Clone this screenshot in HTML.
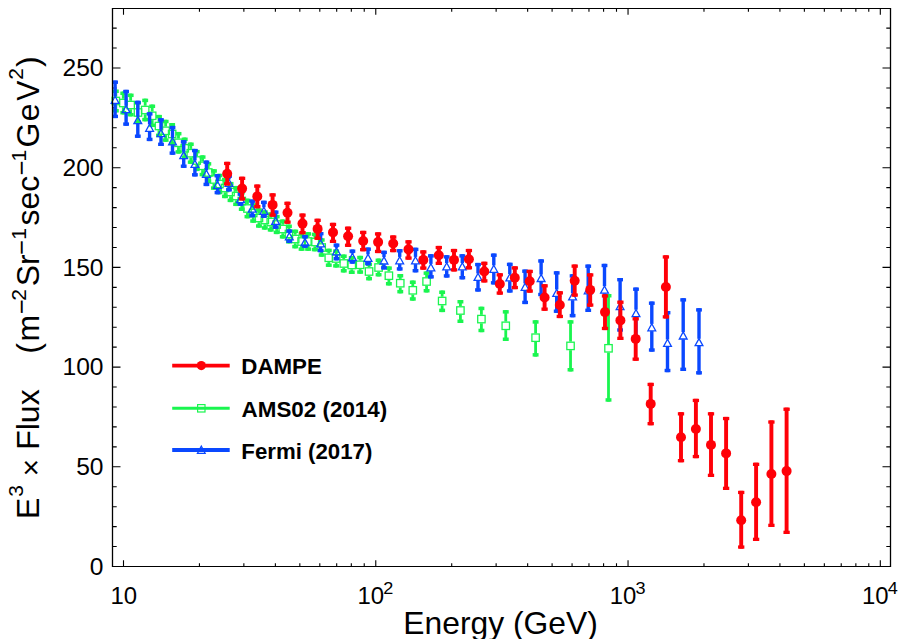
<!DOCTYPE html>
<html><head><meta charset="utf-8"><title>Electron spectrum</title>
<style>
html,body{margin:0;padding:0;background:#fff;}
body{width:913px;height:639px;overflow:hidden;}
svg{display:block;font-family:"Liberation Sans",Arial,Helvetica,sans-serif;}
</style></head><body>
<svg width="913" height="639" viewBox="0 0 913 639">
<rect width="913" height="639" fill="#fff"/>
<g stroke="#000" stroke-width="1.1" fill="none"><path d="M123.50 566.5v-6.2M123.50 8.5v6.2M199.44 566.5v-3.2M199.44 8.5v3.2M243.86 566.5v-3.2M243.86 8.5v3.2M275.38 566.5v-3.2M275.38 8.5v3.2M299.83 566.5v-3.2M299.83 8.5v3.2M319.80 566.5v-3.2M319.80 8.5v3.2M336.69 566.5v-3.2M336.69 8.5v3.2M351.32 566.5v-3.2M351.32 8.5v3.2M364.23 566.5v-3.2M364.23 8.5v3.2M375.77 566.5v-6.2M375.77 8.5v6.2M451.71 566.5v-3.2M451.71 8.5v3.2M496.13 566.5v-3.2M496.13 8.5v3.2M527.65 566.5v-3.2M527.65 8.5v3.2M552.10 566.5v-3.2M552.10 8.5v3.2M572.07 566.5v-3.2M572.07 8.5v3.2M588.96 566.5v-3.2M588.96 8.5v3.2M603.59 566.5v-3.2M603.59 8.5v3.2M616.50 566.5v-3.2M616.50 8.5v3.2M628.04 566.5v-6.2M628.04 8.5v6.2M703.98 566.5v-3.2M703.98 8.5v3.2M748.40 566.5v-3.2M748.40 8.5v3.2M779.92 566.5v-3.2M779.92 8.5v3.2M804.37 566.5v-3.2M804.37 8.5v3.2M824.34 566.5v-3.2M824.34 8.5v3.2M841.23 566.5v-3.2M841.23 8.5v3.2M855.86 566.5v-3.2M855.86 8.5v3.2M868.77 566.5v-3.2M868.77 8.5v3.2M880.31 566.5v-6.2M880.31 8.5v6.2"/><path d="M112.5 546.56h4.2M890.5 546.56h-4.2M112.5 526.62h4.2M890.5 526.62h-4.2M112.5 506.68h4.2M890.5 506.68h-4.2M112.5 486.74h4.2M890.5 486.74h-4.2M112.5 466.80h8M890.5 466.80h-8M112.5 446.86h4.2M890.5 446.86h-4.2M112.5 426.92h4.2M890.5 426.92h-4.2M112.5 406.98h4.2M890.5 406.98h-4.2M112.5 387.04h4.2M890.5 387.04h-4.2M112.5 367.10h8M890.5 367.10h-8M112.5 347.16h4.2M890.5 347.16h-4.2M112.5 327.22h4.2M890.5 327.22h-4.2M112.5 307.28h4.2M890.5 307.28h-4.2M112.5 287.34h4.2M890.5 287.34h-4.2M112.5 267.40h8M890.5 267.40h-8M112.5 247.46h4.2M890.5 247.46h-4.2M112.5 227.52h4.2M890.5 227.52h-4.2M112.5 207.58h4.2M890.5 207.58h-4.2M112.5 187.64h4.2M890.5 187.64h-4.2M112.5 167.70h8M890.5 167.70h-8M112.5 147.76h4.2M890.5 147.76h-4.2M112.5 127.82h4.2M890.5 127.82h-4.2M112.5 107.88h4.2M890.5 107.88h-4.2M112.5 87.94h4.2M890.5 87.94h-4.2M112.5 68.00h8M890.5 68.00h-8M112.5 48.06h4.2M890.5 48.06h-4.2M112.5 28.12h4.2M890.5 28.12h-4.2"/></g>
<g fill="#1af54f" stroke="none">
<rect x="114.44" y="89.52" width="2.8" height="7.18"/><rect x="114.44" y="105.30" width="2.8" height="7.18"/><rect x="112.89" y="89.52" width="5.9" height="3.5"/><rect x="112.89" y="108.98" width="5.9" height="3.5"/>
<rect x="121.87" y="91.55" width="2.8" height="7.15"/><rect x="121.87" y="107.30" width="2.8" height="7.15"/><rect x="120.32" y="91.55" width="5.9" height="3.5"/><rect x="120.32" y="110.95" width="5.9" height="3.5"/>
<rect x="129.25" y="93.58" width="2.8" height="7.12"/><rect x="129.25" y="109.30" width="2.8" height="7.12"/><rect x="127.70" y="93.58" width="5.9" height="3.5"/><rect x="127.70" y="112.92" width="5.9" height="3.5"/>
<rect x="136.59" y="101.19" width="2.8" height="7.01"/><rect x="136.59" y="116.80" width="2.8" height="7.01"/><rect x="135.04" y="101.19" width="5.9" height="3.5"/><rect x="135.04" y="120.31" width="5.9" height="3.5"/>
<rect x="143.78" y="98.65" width="2.8" height="7.05"/><rect x="143.78" y="114.30" width="2.8" height="7.05"/><rect x="142.23" y="98.65" width="5.9" height="3.5"/><rect x="142.23" y="117.85" width="5.9" height="3.5"/>
<rect x="150.79" y="104.54" width="2.8" height="6.96"/><rect x="150.79" y="120.10" width="2.8" height="6.96"/><rect x="149.24" y="104.54" width="5.9" height="3.5"/><rect x="149.24" y="123.56" width="5.9" height="3.5"/>
<rect x="157.57" y="114.89" width="2.8" height="6.81"/><rect x="157.57" y="130.30" width="2.8" height="6.81"/><rect x="156.02" y="114.89" width="5.9" height="3.5"/><rect x="156.02" y="133.61" width="5.9" height="3.5"/>
<rect x="164.22" y="119.77" width="2.8" height="6.73"/><rect x="164.22" y="135.10" width="2.8" height="6.73"/><rect x="162.67" y="119.77" width="5.9" height="3.5"/><rect x="162.67" y="138.33" width="5.9" height="3.5"/>
<rect x="170.74" y="123.02" width="2.8" height="6.68"/><rect x="170.74" y="138.30" width="2.8" height="6.68"/><rect x="169.19" y="123.02" width="5.9" height="3.5"/><rect x="169.19" y="141.48" width="5.9" height="3.5"/>
<rect x="177.09" y="131.95" width="2.8" height="6.55"/><rect x="177.09" y="147.10" width="2.8" height="6.55"/><rect x="175.54" y="131.95" width="5.9" height="3.5"/><rect x="175.54" y="150.15" width="5.9" height="3.5"/>
<rect x="183.31" y="137.53" width="2.8" height="6.47"/><rect x="183.31" y="152.60" width="2.8" height="6.47"/><rect x="181.76" y="137.53" width="5.9" height="3.5"/><rect x="181.76" y="155.57" width="5.9" height="3.5"/>
<rect x="189.37" y="142.51" width="2.8" height="6.39"/><rect x="189.37" y="157.50" width="2.8" height="6.39"/><rect x="187.82" y="142.51" width="5.9" height="3.5"/><rect x="187.82" y="160.39" width="5.9" height="3.5"/>
<rect x="195.31" y="149.92" width="2.8" height="6.28"/><rect x="195.31" y="164.80" width="2.8" height="6.28"/><rect x="193.76" y="149.92" width="5.9" height="3.5"/><rect x="193.76" y="167.58" width="5.9" height="3.5"/>
<rect x="201.16" y="155.30" width="2.8" height="6.20"/><rect x="201.16" y="170.10" width="2.8" height="6.20"/><rect x="199.61" y="155.30" width="5.9" height="3.5"/><rect x="199.61" y="172.80" width="5.9" height="3.5"/>
<rect x="206.89" y="162.10" width="2.8" height="6.10"/><rect x="206.89" y="176.80" width="2.8" height="6.10"/><rect x="205.34" y="162.10" width="5.9" height="3.5"/><rect x="205.34" y="179.40" width="5.9" height="3.5"/>
<rect x="212.53" y="169.20" width="2.8" height="6.00"/><rect x="212.53" y="183.80" width="2.8" height="6.00"/><rect x="210.98" y="169.20" width="5.9" height="3.5"/><rect x="210.98" y="186.30" width="5.9" height="3.5"/>
<rect x="218.07" y="173.77" width="2.8" height="5.93"/><rect x="218.07" y="188.30" width="2.8" height="5.93"/><rect x="216.52" y="173.77" width="5.9" height="3.5"/><rect x="216.52" y="190.73" width="5.9" height="3.5"/>
<rect x="223.59" y="177.83" width="2.8" height="5.87"/><rect x="223.59" y="192.30" width="2.8" height="5.87"/><rect x="222.04" y="177.83" width="5.9" height="3.5"/><rect x="222.04" y="194.67" width="5.9" height="3.5"/>
<rect x="229.15" y="181.89" width="2.8" height="5.81"/><rect x="229.15" y="196.30" width="2.8" height="5.81"/><rect x="227.60" y="181.89" width="5.9" height="3.5"/><rect x="227.60" y="198.61" width="5.9" height="3.5"/>
<rect x="234.73" y="185.95" width="2.8" height="5.75"/><rect x="234.73" y="200.30" width="2.8" height="5.75"/><rect x="233.18" y="185.95" width="5.9" height="3.5"/><rect x="233.18" y="202.55" width="5.9" height="3.5"/>
<rect x="240.38" y="191.03" width="2.8" height="5.67"/><rect x="240.38" y="205.30" width="2.8" height="5.67"/><rect x="238.83" y="191.03" width="5.9" height="3.5"/><rect x="238.83" y="207.47" width="5.9" height="3.5"/>
<rect x="246.07" y="198.64" width="2.8" height="5.56"/><rect x="246.07" y="212.80" width="2.8" height="5.56"/><rect x="244.52" y="198.64" width="5.9" height="3.5"/><rect x="244.52" y="214.86" width="5.9" height="3.5"/>
<rect x="251.78" y="203.21" width="2.8" height="5.49"/><rect x="251.78" y="217.30" width="2.8" height="5.49"/><rect x="250.23" y="203.21" width="5.9" height="3.5"/><rect x="250.23" y="219.29" width="5.9" height="3.5"/>
<rect x="257.56" y="208.29" width="2.8" height="5.41"/><rect x="257.56" y="222.30" width="2.8" height="5.41"/><rect x="256.01" y="208.29" width="5.9" height="3.5"/><rect x="256.01" y="224.21" width="5.9" height="3.5"/>
<rect x="263.41" y="210.32" width="2.8" height="5.38"/><rect x="263.41" y="224.30" width="2.8" height="5.38"/><rect x="261.86" y="210.32" width="5.9" height="3.5"/><rect x="261.86" y="226.18" width="5.9" height="3.5"/>
<rect x="269.33" y="212.35" width="2.8" height="5.35"/><rect x="269.33" y="226.30" width="2.8" height="5.35"/><rect x="267.78" y="212.35" width="5.9" height="3.5"/><rect x="267.78" y="228.15" width="5.9" height="3.5"/>
<rect x="275.30" y="214.89" width="2.8" height="5.31"/><rect x="275.30" y="228.80" width="2.8" height="5.31"/><rect x="273.75" y="214.89" width="5.9" height="3.5"/><rect x="273.75" y="230.61" width="5.9" height="3.5"/>
<rect x="281.36" y="219.45" width="2.8" height="5.25"/><rect x="281.36" y="233.30" width="2.8" height="5.25"/><rect x="279.81" y="219.45" width="5.9" height="3.5"/><rect x="279.81" y="235.05" width="5.9" height="3.5"/>
<rect x="287.53" y="224.53" width="2.8" height="5.17"/><rect x="287.53" y="238.30" width="2.8" height="5.17"/><rect x="285.98" y="224.53" width="5.9" height="3.5"/><rect x="285.98" y="239.97" width="5.9" height="3.5"/>
<rect x="293.80" y="229.61" width="2.8" height="5.09"/><rect x="293.80" y="243.30" width="2.8" height="5.09"/><rect x="292.25" y="229.61" width="5.9" height="3.5"/><rect x="292.25" y="244.89" width="5.9" height="3.5"/>
<rect x="300.19" y="232.14" width="2.8" height="5.06"/><rect x="300.19" y="245.80" width="2.8" height="5.06"/><rect x="298.64" y="232.14" width="5.9" height="3.5"/><rect x="298.64" y="247.36" width="5.9" height="3.5"/>
<rect x="306.72" y="232.14" width="2.8" height="5.06"/><rect x="306.72" y="245.80" width="2.8" height="5.06"/><rect x="305.17" y="232.14" width="5.9" height="3.5"/><rect x="305.17" y="247.36" width="5.9" height="3.5"/>
<rect x="313.41" y="232.65" width="2.8" height="5.05"/><rect x="313.41" y="246.30" width="2.8" height="5.05"/><rect x="311.86" y="232.65" width="5.9" height="3.5"/><rect x="311.86" y="247.85" width="5.9" height="3.5"/>
<rect x="320.29" y="238.23" width="2.8" height="4.97"/><rect x="320.29" y="251.80" width="2.8" height="4.97"/><rect x="318.74" y="238.23" width="5.9" height="3.5"/><rect x="318.74" y="253.27" width="5.9" height="3.5"/>
<rect x="327.38" y="248.69" width="2.8" height="4.81"/><rect x="327.38" y="262.10" width="2.8" height="4.81"/><rect x="325.83" y="248.69" width="5.9" height="3.5"/><rect x="325.83" y="263.41" width="5.9" height="3.5"/>
<rect x="334.72" y="249.40" width="2.8" height="4.80"/><rect x="334.72" y="262.80" width="2.8" height="4.80"/><rect x="333.17" y="249.40" width="5.9" height="3.5"/><rect x="333.17" y="264.10" width="5.9" height="3.5"/>
<rect x="342.36" y="254.48" width="2.8" height="4.72"/><rect x="342.36" y="267.80" width="2.8" height="4.72"/><rect x="340.81" y="254.48" width="5.9" height="3.5"/><rect x="340.81" y="269.02" width="5.9" height="3.5"/>
<rect x="350.35" y="256.00" width="2.8" height="4.70"/><rect x="350.35" y="269.30" width="2.8" height="4.70"/><rect x="348.80" y="256.00" width="5.9" height="3.5"/><rect x="348.80" y="270.50" width="5.9" height="3.5"/>
<rect x="358.74" y="255.80" width="2.8" height="4.70"/><rect x="358.74" y="269.10" width="2.8" height="4.70"/><rect x="357.19" y="255.80" width="5.9" height="3.5"/><rect x="357.19" y="270.30" width="5.9" height="3.5"/>
<rect x="367.65" y="262.60" width="2.8" height="4.60"/><rect x="367.65" y="275.80" width="2.8" height="4.60"/><rect x="366.10" y="262.60" width="5.9" height="3.5"/><rect x="366.10" y="276.90" width="5.9" height="3.5"/>
<rect x="377.17" y="258.54" width="2.8" height="4.66"/><rect x="377.17" y="271.80" width="2.8" height="4.66"/><rect x="375.62" y="258.54" width="5.9" height="3.5"/><rect x="375.62" y="272.96" width="5.9" height="3.5"/>
<rect x="387.48" y="266.40" width="2.8" height="5.00"/><rect x="387.48" y="280.00" width="2.8" height="5.50"/><rect x="385.93" y="266.40" width="5.9" height="3.5"/><rect x="385.93" y="282.00" width="5.9" height="3.5"/>
<rect x="398.87" y="274.00" width="2.8" height="4.90"/><rect x="398.87" y="287.50" width="2.8" height="5.90"/><rect x="397.32" y="274.00" width="5.9" height="3.5"/><rect x="397.32" y="289.90" width="5.9" height="3.5"/>
<rect x="411.39" y="280.50" width="2.8" height="5.50"/><rect x="411.39" y="294.60" width="2.8" height="6.10"/><rect x="409.84" y="280.50" width="5.9" height="3.5"/><rect x="409.84" y="297.20" width="5.9" height="3.5"/>
<rect x="425.18" y="271.40" width="2.8" height="5.80"/><rect x="425.18" y="285.80" width="2.8" height="6.70"/><rect x="423.63" y="271.40" width="5.9" height="3.5"/><rect x="423.63" y="289.00" width="5.9" height="3.5"/>
<rect x="440.74" y="290.50" width="2.8" height="6.20"/><rect x="440.74" y="305.30" width="2.8" height="6.80"/><rect x="439.19" y="290.50" width="5.9" height="3.5"/><rect x="439.19" y="308.60" width="5.9" height="3.5"/>
<rect x="459.02" y="300.00" width="2.8" height="6.20"/><rect x="459.02" y="314.80" width="2.8" height="8.20"/><rect x="457.47" y="300.00" width="5.9" height="3.5"/><rect x="457.47" y="319.50" width="5.9" height="3.5"/>
<rect x="480.01" y="306.70" width="2.8" height="8.10"/><rect x="480.01" y="323.40" width="2.8" height="8.80"/><rect x="478.46" y="306.70" width="5.9" height="3.5"/><rect x="478.46" y="328.70" width="5.9" height="3.5"/>
<rect x="504.36" y="310.10" width="2.8" height="11.40"/><rect x="504.36" y="330.10" width="2.8" height="10.90"/><rect x="502.81" y="310.10" width="5.9" height="3.5"/><rect x="502.81" y="337.50" width="5.9" height="3.5"/>
<rect x="534.20" y="320.20" width="2.8" height="13.20"/><rect x="534.20" y="342.00" width="2.8" height="14.60"/><rect x="532.65" y="320.20" width="5.9" height="3.5"/><rect x="532.65" y="353.10" width="5.9" height="3.5"/>
<rect x="569.13" y="320.20" width="2.8" height="21.40"/><rect x="569.13" y="350.20" width="2.8" height="21.30"/><rect x="567.58" y="320.20" width="5.9" height="3.5"/><rect x="567.58" y="368.00" width="5.9" height="3.5"/>
<rect x="607.10" y="294.00" width="2.8" height="50.00"/><rect x="607.10" y="352.60" width="2.8" height="49.10"/><rect x="605.55" y="294.00" width="5.9" height="3.5"/><rect x="605.55" y="398.20" width="5.9" height="3.5"/>
</g>
<g fill="none" stroke="#1af54f" stroke-width="1.3">
<rect x="112.14" y="97.30" width="7.4" height="7.4"/>
<rect x="119.57" y="99.30" width="7.4" height="7.4"/>
<rect x="126.95" y="101.30" width="7.4" height="7.4"/>
<rect x="134.29" y="108.80" width="7.4" height="7.4"/>
<rect x="141.48" y="106.30" width="7.4" height="7.4"/>
<rect x="148.49" y="112.10" width="7.4" height="7.4"/>
<rect x="155.27" y="122.30" width="7.4" height="7.4"/>
<rect x="161.92" y="127.10" width="7.4" height="7.4"/>
<rect x="168.44" y="130.30" width="7.4" height="7.4"/>
<rect x="174.79" y="139.10" width="7.4" height="7.4"/>
<rect x="181.01" y="144.60" width="7.4" height="7.4"/>
<rect x="187.07" y="149.50" width="7.4" height="7.4"/>
<rect x="193.01" y="156.80" width="7.4" height="7.4"/>
<rect x="198.86" y="162.10" width="7.4" height="7.4"/>
<rect x="204.59" y="168.80" width="7.4" height="7.4"/>
<rect x="210.23" y="175.80" width="7.4" height="7.4"/>
<rect x="215.77" y="180.30" width="7.4" height="7.4"/>
<rect x="221.29" y="184.30" width="7.4" height="7.4"/>
<rect x="226.85" y="188.30" width="7.4" height="7.4"/>
<rect x="232.43" y="192.30" width="7.4" height="7.4"/>
<rect x="238.08" y="197.30" width="7.4" height="7.4"/>
<rect x="243.77" y="204.80" width="7.4" height="7.4"/>
<rect x="249.48" y="209.30" width="7.4" height="7.4"/>
<rect x="255.26" y="214.30" width="7.4" height="7.4"/>
<rect x="261.11" y="216.30" width="7.4" height="7.4"/>
<rect x="267.03" y="218.30" width="7.4" height="7.4"/>
<rect x="273.00" y="220.80" width="7.4" height="7.4"/>
<rect x="279.06" y="225.30" width="7.4" height="7.4"/>
<rect x="285.23" y="230.30" width="7.4" height="7.4"/>
<rect x="291.50" y="235.30" width="7.4" height="7.4"/>
<rect x="297.89" y="237.80" width="7.4" height="7.4"/>
<rect x="304.42" y="237.80" width="7.4" height="7.4"/>
<rect x="311.11" y="238.30" width="7.4" height="7.4"/>
<rect x="317.99" y="243.80" width="7.4" height="7.4"/>
<rect x="325.08" y="254.10" width="7.4" height="7.4"/>
<rect x="332.42" y="254.80" width="7.4" height="7.4"/>
<rect x="340.06" y="259.80" width="7.4" height="7.4"/>
<rect x="348.05" y="261.30" width="7.4" height="7.4"/>
<rect x="356.44" y="261.10" width="7.4" height="7.4"/>
<rect x="365.35" y="267.80" width="7.4" height="7.4"/>
<rect x="374.87" y="263.80" width="7.4" height="7.4"/>
<rect x="385.18" y="272.00" width="7.4" height="7.4"/>
<rect x="396.57" y="279.50" width="7.4" height="7.4"/>
<rect x="409.09" y="286.60" width="7.4" height="7.4"/>
<rect x="422.88" y="277.80" width="7.4" height="7.4"/>
<rect x="438.44" y="297.30" width="7.4" height="7.4"/>
<rect x="456.72" y="306.80" width="7.4" height="7.4"/>
<rect x="477.71" y="315.40" width="7.4" height="7.4"/>
<rect x="502.06" y="322.10" width="7.4" height="7.4"/>
<rect x="531.90" y="334.00" width="7.4" height="7.4"/>
<rect x="566.83" y="342.20" width="7.4" height="7.4"/>
<rect x="604.80" y="344.60" width="7.4" height="7.4"/>
</g>
<g fill="#0a48ff" stroke="none">
<rect x="113.40" y="80.50" width="3.4" height="16.00"/><rect x="113.40" y="103.70" width="3.4" height="14.40"/><rect x="112.20" y="80.50" width="5.8" height="3.4"/><rect x="112.20" y="114.70" width="5.8" height="3.4"/>
<rect x="124.40" y="89.80" width="3.4" height="16.00"/><rect x="124.40" y="113.00" width="3.4" height="12.80"/><rect x="123.20" y="89.80" width="5.8" height="3.4"/><rect x="123.20" y="122.40" width="5.8" height="3.4"/>
<rect x="136.10" y="100.70" width="3.4" height="16.10"/><rect x="136.10" y="124.00" width="3.4" height="13.90"/><rect x="134.90" y="100.70" width="5.8" height="3.4"/><rect x="134.90" y="134.50" width="5.8" height="3.4"/>
<rect x="147.90" y="112.20" width="3.4" height="12.20"/><rect x="147.90" y="131.60" width="3.4" height="9.50"/><rect x="146.70" y="112.20" width="5.8" height="3.4"/><rect x="146.70" y="137.70" width="5.8" height="3.4"/>
<rect x="159.30" y="118.20" width="3.4" height="11.50"/><rect x="159.30" y="136.90" width="3.4" height="9.10"/><rect x="158.10" y="118.20" width="5.8" height="3.4"/><rect x="158.10" y="142.60" width="5.8" height="3.4"/>
<rect x="170.80" y="125.90" width="3.4" height="12.00"/><rect x="170.80" y="145.10" width="3.4" height="9.70"/><rect x="169.60" y="125.90" width="5.8" height="3.4"/><rect x="169.60" y="151.40" width="5.8" height="3.4"/>
<rect x="182.00" y="140.10" width="3.4" height="11.70"/><rect x="182.00" y="159.00" width="3.4" height="8.90"/><rect x="180.80" y="140.10" width="5.8" height="3.4"/><rect x="180.80" y="164.50" width="5.8" height="3.4"/>
<rect x="193.20" y="148.90" width="3.4" height="11.60"/><rect x="193.20" y="167.70" width="3.4" height="8.80"/><rect x="192.00" y="148.90" width="5.8" height="3.4"/><rect x="192.00" y="173.10" width="5.8" height="3.4"/>
<rect x="204.70" y="160.50" width="3.4" height="9.90"/><rect x="204.70" y="177.60" width="3.4" height="8.50"/><rect x="203.50" y="160.50" width="5.8" height="3.4"/><rect x="203.50" y="182.70" width="5.8" height="3.4"/>
<rect x="215.80" y="174.10" width="3.4" height="7.30"/><rect x="215.80" y="188.60" width="3.4" height="5.70"/><rect x="214.60" y="174.10" width="5.8" height="3.4"/><rect x="214.60" y="190.90" width="5.8" height="3.4"/>
<rect x="227.30" y="174.50" width="3.4" height="4.90"/><rect x="227.30" y="186.60" width="3.4" height="4.90"/><rect x="226.10" y="174.50" width="5.8" height="3.4"/><rect x="226.10" y="188.10" width="5.8" height="3.4"/>
<rect x="238.80" y="192.50" width="3.4" height="3.20"/><rect x="238.80" y="202.90" width="3.4" height="2.90"/><rect x="237.60" y="192.50" width="5.8" height="3.4"/><rect x="237.60" y="202.40" width="5.8" height="3.4"/>
<rect x="250.50" y="199.50" width="3.4" height="5.70"/><rect x="250.50" y="212.40" width="3.4" height="4.90"/><rect x="249.30" y="199.50" width="5.8" height="3.4"/><rect x="249.30" y="213.90" width="5.8" height="3.4"/>
<rect x="262.20" y="200.70" width="3.4" height="6.70"/><rect x="262.20" y="214.60" width="3.4" height="3.30"/><rect x="261.00" y="200.70" width="5.8" height="3.4"/><rect x="261.00" y="214.50" width="5.8" height="3.4"/>
<rect x="273.90" y="210.50" width="3.4" height="7.00"/><rect x="273.90" y="224.70" width="3.4" height="4.10"/><rect x="272.70" y="210.50" width="5.8" height="3.4"/><rect x="272.70" y="225.40" width="5.8" height="3.4"/>
<rect x="287.60" y="229.40" width="3.4" height="3.50"/><rect x="287.60" y="240.10" width="3.4" height="2.90"/><rect x="286.40" y="229.40" width="5.8" height="3.4"/><rect x="286.40" y="239.60" width="5.8" height="3.4"/>
<rect x="303.30" y="235.00" width="3.4" height="3.80"/><rect x="303.30" y="246.00" width="3.4" height="1.80"/><rect x="302.10" y="235.00" width="5.8" height="3.4"/><rect x="302.10" y="244.40" width="5.8" height="3.4"/>
<rect x="318.90" y="232.00" width="3.4" height="7.90"/><rect x="318.90" y="247.10" width="3.4" height="5.20"/><rect x="317.70" y="232.00" width="5.8" height="3.4"/><rect x="317.70" y="248.90" width="5.8" height="3.4"/>
<rect x="334.80" y="243.50" width="3.4" height="4.40"/><rect x="334.80" y="255.10" width="3.4" height="5.30"/><rect x="333.60" y="243.50" width="5.8" height="3.4"/><rect x="333.60" y="257.00" width="5.8" height="3.4"/>
<rect x="350.70" y="249.50" width="3.4" height="4.10"/><rect x="350.70" y="260.80" width="3.4" height="2.90"/><rect x="349.50" y="249.50" width="5.8" height="3.4"/><rect x="349.50" y="260.30" width="5.8" height="3.4"/>
<rect x="366.30" y="247.50" width="3.4" height="6.90"/><rect x="366.30" y="261.60" width="3.4" height="3.70"/><rect x="365.10" y="247.50" width="5.8" height="3.4"/><rect x="365.10" y="261.90" width="5.8" height="3.4"/>
<rect x="382.30" y="250.70" width="3.4" height="6.40"/><rect x="382.30" y="264.30" width="3.4" height="5.20"/><rect x="381.10" y="250.70" width="5.8" height="3.4"/><rect x="381.10" y="266.10" width="5.8" height="3.4"/>
<rect x="398.00" y="249.10" width="3.4" height="7.80"/><rect x="398.00" y="264.10" width="3.4" height="6.50"/><rect x="396.80" y="249.10" width="5.8" height="3.4"/><rect x="396.80" y="267.20" width="5.8" height="3.4"/>
<rect x="413.80" y="247.70" width="3.4" height="9.20"/><rect x="413.80" y="264.10" width="3.4" height="8.30"/><rect x="412.60" y="247.70" width="5.8" height="3.4"/><rect x="412.60" y="269.00" width="5.8" height="3.4"/>
<rect x="429.20" y="254.20" width="3.4" height="9.70"/><rect x="429.20" y="271.10" width="3.4" height="7.40"/><rect x="428.00" y="254.20" width="5.8" height="3.4"/><rect x="428.00" y="275.10" width="5.8" height="3.4"/>
<rect x="445.00" y="255.20" width="3.4" height="7.80"/><rect x="445.00" y="270.20" width="3.4" height="7.40"/><rect x="443.80" y="255.20" width="5.8" height="3.4"/><rect x="443.80" y="274.20" width="5.8" height="3.4"/>
<rect x="460.60" y="254.20" width="3.4" height="8.80"/><rect x="460.60" y="270.20" width="3.4" height="9.20"/><rect x="459.40" y="254.20" width="5.8" height="3.4"/><rect x="459.40" y="276.00" width="5.8" height="3.4"/>
<rect x="476.30" y="262.90" width="3.4" height="10.60"/><rect x="476.30" y="280.70" width="3.4" height="10.90"/><rect x="475.10" y="262.90" width="5.8" height="3.4"/><rect x="475.10" y="288.20" width="5.8" height="3.4"/>
<rect x="492.10" y="253.50" width="3.4" height="11.90"/><rect x="492.10" y="272.60" width="3.4" height="11.90"/><rect x="490.90" y="253.50" width="5.8" height="3.4"/><rect x="490.90" y="281.10" width="5.8" height="3.4"/>
<rect x="508.10" y="262.70" width="3.4" height="11.30"/><rect x="508.10" y="281.20" width="3.4" height="11.40"/><rect x="506.90" y="262.70" width="5.8" height="3.4"/><rect x="506.90" y="289.20" width="5.8" height="3.4"/>
<rect x="523.40" y="269.50" width="3.4" height="13.90"/><rect x="523.40" y="290.60" width="3.4" height="13.50"/><rect x="522.20" y="269.50" width="5.8" height="3.4"/><rect x="522.20" y="300.70" width="5.8" height="3.4"/>
<rect x="539.40" y="259.30" width="3.4" height="15.30"/><rect x="539.40" y="281.80" width="3.4" height="14.40"/><rect x="538.20" y="259.30" width="5.8" height="3.4"/><rect x="538.20" y="292.80" width="5.8" height="3.4"/>
<rect x="555.00" y="271.20" width="3.4" height="18.30"/><rect x="555.00" y="296.70" width="3.4" height="16.20"/><rect x="553.80" y="271.20" width="5.8" height="3.4"/><rect x="553.80" y="309.50" width="5.8" height="3.4"/>
<rect x="570.90" y="274.20" width="3.4" height="18.80"/><rect x="570.90" y="300.20" width="3.4" height="17.10"/><rect x="569.70" y="274.20" width="5.8" height="3.4"/><rect x="569.70" y="313.90" width="5.8" height="3.4"/>
<rect x="586.50" y="264.50" width="3.4" height="22.40"/><rect x="586.50" y="294.10" width="3.4" height="17.90"/><rect x="585.30" y="264.50" width="5.8" height="3.4"/><rect x="585.30" y="308.60" width="5.8" height="3.4"/>
<rect x="602.80" y="263.80" width="3.4" height="22.40"/><rect x="602.80" y="293.40" width="3.4" height="22.10"/><rect x="601.60" y="263.80" width="5.8" height="3.4"/><rect x="601.60" y="312.10" width="5.8" height="3.4"/>
<rect x="618.40" y="278.00" width="3.4" height="24.80"/><rect x="618.40" y="310.00" width="3.4" height="21.70"/><rect x="617.20" y="278.00" width="5.8" height="3.4"/><rect x="617.20" y="328.30" width="5.8" height="3.4"/>
<rect x="634.30" y="287.50" width="3.4" height="22.20"/><rect x="634.30" y="316.90" width="3.4" height="21.60"/><rect x="633.10" y="287.50" width="5.8" height="3.4"/><rect x="633.10" y="335.10" width="5.8" height="3.4"/>
<rect x="650.10" y="301.50" width="3.4" height="22.40"/><rect x="650.10" y="331.10" width="3.4" height="20.60"/><rect x="648.90" y="301.50" width="5.8" height="3.4"/><rect x="648.90" y="348.30" width="5.8" height="3.4"/>
<rect x="665.80" y="311.00" width="3.4" height="28.50"/><rect x="665.80" y="346.70" width="3.4" height="25.50"/><rect x="664.60" y="311.00" width="5.8" height="3.4"/><rect x="664.60" y="368.80" width="5.8" height="3.4"/>
<rect x="681.50" y="298.20" width="3.4" height="33.90"/><rect x="681.50" y="339.30" width="3.4" height="31.70"/><rect x="680.30" y="298.20" width="5.8" height="3.4"/><rect x="680.30" y="367.60" width="5.8" height="3.4"/>
<rect x="697.30" y="308.20" width="3.4" height="30.60"/><rect x="697.30" y="346.00" width="3.4" height="28.50"/><rect x="696.10" y="308.20" width="5.8" height="3.4"/><rect x="696.10" y="371.10" width="5.8" height="3.4"/>
</g>
<g fill="none" stroke="#0a48ff" stroke-width="1.3" stroke-linejoin="miter">
<path d="M115.10 96.30L119.00 103.40L111.20 103.40Z"/>
<path d="M126.10 105.60L130.00 112.70L122.20 112.70Z"/>
<path d="M137.80 116.60L141.70 123.70L133.90 123.70Z"/>
<path d="M149.60 124.20L153.50 131.30L145.70 131.30Z"/>
<path d="M161.00 129.50L164.90 136.60L157.10 136.60Z"/>
<path d="M172.50 137.70L176.40 144.80L168.60 144.80Z"/>
<path d="M183.70 151.60L187.60 158.70L179.80 158.70Z"/>
<path d="M194.90 160.30L198.80 167.40L191.00 167.40Z"/>
<path d="M206.40 170.20L210.30 177.30L202.50 177.30Z"/>
<path d="M217.50 181.20L221.40 188.30L213.60 188.30Z"/>
<path d="M229.00 179.20L232.90 186.30L225.10 186.30Z"/>
<path d="M240.50 195.50L244.40 202.60L236.60 202.60Z"/>
<path d="M252.20 205.00L256.10 212.10L248.30 212.10Z"/>
<path d="M263.90 207.20L267.80 214.30L260.00 214.30Z"/>
<path d="M275.60 217.30L279.50 224.40L271.70 224.40Z"/>
<path d="M289.30 232.70L293.20 239.80L285.40 239.80Z"/>
<path d="M305.00 238.60L308.90 245.70L301.10 245.70Z"/>
<path d="M320.60 239.70L324.50 246.80L316.70 246.80Z"/>
<path d="M336.50 247.70L340.40 254.80L332.60 254.80Z"/>
<path d="M352.40 253.40L356.30 260.50L348.50 260.50Z"/>
<path d="M368.00 254.20L371.90 261.30L364.10 261.30Z"/>
<path d="M384.00 256.90L387.90 264.00L380.10 264.00Z"/>
<path d="M399.70 256.70L403.60 263.80L395.80 263.80Z"/>
<path d="M415.50 256.70L419.40 263.80L411.60 263.80Z"/>
<path d="M430.90 263.70L434.80 270.80L427.00 270.80Z"/>
<path d="M446.70 262.80L450.60 269.90L442.80 269.90Z"/>
<path d="M462.30 262.80L466.20 269.90L458.40 269.90Z"/>
<path d="M478.00 273.30L481.90 280.40L474.10 280.40Z"/>
<path d="M493.80 265.20L497.70 272.30L489.90 272.30Z"/>
<path d="M509.80 273.80L513.70 280.90L505.90 280.90Z"/>
<path d="M525.10 283.20L529.00 290.30L521.20 290.30Z"/>
<path d="M541.10 274.40L545.00 281.50L537.20 281.50Z"/>
<path d="M556.70 289.30L560.60 296.40L552.80 296.40Z"/>
<path d="M572.60 292.80L576.50 299.90L568.70 299.90Z"/>
<path d="M588.20 286.70L592.10 293.80L584.30 293.80Z"/>
<path d="M604.50 286.00L608.40 293.10L600.60 293.10Z"/>
<path d="M620.10 302.60L624.00 309.70L616.20 309.70Z"/>
<path d="M636.00 309.50L639.90 316.60L632.10 316.60Z"/>
<path d="M651.80 323.70L655.70 330.80L647.90 330.80Z"/>
<path d="M667.50 339.30L671.40 346.40L663.60 346.40Z"/>
<path d="M683.20 331.90L687.10 339.00L679.30 339.00Z"/>
<path d="M699.00 338.60L702.90 345.70L695.10 345.70Z"/>
</g>
<g fill="#ff0008" stroke="none">
<rect x="225.25" y="161.80" width="3.9" height="11.90"/><rect x="225.25" y="173.70" width="3.9" height="11.80"/><rect x="224.05" y="161.80" width="6.3" height="3.3"/><rect x="224.05" y="182.20" width="6.3" height="3.3"/>
<rect x="240.15" y="176.70" width="3.9" height="11.90"/><rect x="240.15" y="188.60" width="3.9" height="11.90"/><rect x="238.95" y="176.70" width="6.3" height="3.3"/><rect x="238.95" y="197.20" width="6.3" height="3.3"/>
<rect x="255.35" y="184.50" width="3.9" height="11.90"/><rect x="255.35" y="196.40" width="3.9" height="11.90"/><rect x="254.15" y="184.50" width="6.3" height="3.3"/><rect x="254.15" y="205.00" width="6.3" height="3.3"/>
<rect x="270.65" y="193.30" width="3.9" height="11.60"/><rect x="270.65" y="204.90" width="3.9" height="11.80"/><rect x="269.45" y="193.30" width="6.3" height="3.3"/><rect x="269.45" y="213.40" width="6.3" height="3.3"/>
<rect x="285.55" y="201.70" width="3.9" height="11.00"/><rect x="285.55" y="212.70" width="3.9" height="11.10"/><rect x="284.35" y="201.70" width="6.3" height="3.3"/><rect x="284.35" y="220.50" width="6.3" height="3.3"/>
<rect x="300.55" y="213.50" width="3.9" height="10.10"/><rect x="300.55" y="223.60" width="3.9" height="10.70"/><rect x="299.35" y="213.50" width="6.3" height="3.3"/><rect x="299.35" y="231.00" width="6.3" height="3.3"/>
<rect x="315.65" y="218.70" width="3.9" height="10.20"/><rect x="315.65" y="228.90" width="3.9" height="11.00"/><rect x="314.45" y="218.70" width="6.3" height="3.3"/><rect x="314.45" y="236.60" width="6.3" height="3.3"/>
<rect x="331.05" y="222.80" width="3.9" height="9.60"/><rect x="331.05" y="232.40" width="3.9" height="10.60"/><rect x="329.85" y="222.80" width="6.3" height="3.3"/><rect x="329.85" y="239.70" width="6.3" height="3.3"/>
<rect x="346.15" y="226.60" width="3.9" height="9.60"/><rect x="346.15" y="236.20" width="3.9" height="10.70"/><rect x="344.95" y="226.60" width="6.3" height="3.3"/><rect x="344.95" y="243.60" width="6.3" height="3.3"/>
<rect x="361.25" y="230.80" width="3.9" height="10.20"/><rect x="361.25" y="241.00" width="3.9" height="10.30"/><rect x="360.05" y="230.80" width="6.3" height="3.3"/><rect x="360.05" y="248.00" width="6.3" height="3.3"/>
<rect x="376.15" y="232.30" width="3.9" height="9.80"/><rect x="376.15" y="242.10" width="3.9" height="11.00"/><rect x="374.95" y="232.30" width="6.3" height="3.3"/><rect x="374.95" y="249.80" width="6.3" height="3.3"/>
<rect x="391.25" y="235.40" width="3.9" height="8.10"/><rect x="391.25" y="243.50" width="3.9" height="8.70"/><rect x="390.05" y="235.40" width="6.3" height="3.3"/><rect x="390.05" y="248.90" width="6.3" height="3.3"/>
<rect x="406.55" y="240.20" width="3.9" height="9.20"/><rect x="406.55" y="249.40" width="3.9" height="10.30"/><rect x="405.35" y="240.20" width="6.3" height="3.3"/><rect x="405.35" y="256.40" width="6.3" height="3.3"/>
<rect x="421.35" y="250.30" width="3.9" height="9.60"/><rect x="421.35" y="259.90" width="3.9" height="9.80"/><rect x="420.15" y="250.30" width="6.3" height="3.3"/><rect x="420.15" y="266.40" width="6.3" height="3.3"/>
<rect x="436.85" y="245.90" width="3.9" height="9.30"/><rect x="436.85" y="255.20" width="3.9" height="9.80"/><rect x="435.65" y="245.90" width="6.3" height="3.3"/><rect x="435.65" y="261.70" width="6.3" height="3.3"/>
<rect x="452.05" y="248.90" width="3.9" height="11.00"/><rect x="452.05" y="259.90" width="3.9" height="11.60"/><rect x="450.85" y="248.90" width="6.3" height="3.3"/><rect x="450.85" y="268.20" width="6.3" height="3.3"/>
<rect x="466.95" y="248.90" width="3.9" height="10.30"/><rect x="466.95" y="259.20" width="3.9" height="10.20"/><rect x="465.75" y="248.90" width="6.3" height="3.3"/><rect x="465.75" y="266.10" width="6.3" height="3.3"/>
<rect x="482.35" y="261.70" width="3.9" height="9.80"/><rect x="482.35" y="271.50" width="3.9" height="11.00"/><rect x="481.15" y="261.70" width="6.3" height="3.3"/><rect x="481.15" y="279.20" width="6.3" height="3.3"/>
<rect x="497.85" y="273.20" width="3.9" height="10.80"/><rect x="497.85" y="284.00" width="3.9" height="10.70"/><rect x="496.65" y="273.20" width="6.3" height="3.3"/><rect x="496.65" y="291.40" width="6.3" height="3.3"/>
<rect x="512.85" y="266.30" width="3.9" height="11.40"/><rect x="512.85" y="277.70" width="3.9" height="11.50"/><rect x="511.65" y="266.30" width="6.3" height="3.3"/><rect x="511.65" y="285.90" width="6.3" height="3.3"/>
<rect x="527.75" y="269.80" width="3.9" height="11.40"/><rect x="527.75" y="281.20" width="3.9" height="11.50"/><rect x="526.55" y="269.80" width="6.3" height="3.3"/><rect x="526.55" y="289.40" width="6.3" height="3.3"/>
<rect x="542.65" y="284.20" width="3.9" height="13.30"/><rect x="542.65" y="297.50" width="3.9" height="13.30"/><rect x="541.45" y="284.20" width="6.3" height="3.3"/><rect x="541.45" y="307.50" width="6.3" height="3.3"/>
<rect x="557.85" y="291.20" width="3.9" height="13.80"/><rect x="557.85" y="305.00" width="3.9" height="13.10"/><rect x="556.65" y="291.20" width="6.3" height="3.3"/><rect x="556.65" y="314.80" width="6.3" height="3.3"/>
<rect x="572.75" y="264.50" width="3.9" height="16.30"/><rect x="572.75" y="280.80" width="3.9" height="15.90"/><rect x="571.55" y="264.50" width="6.3" height="3.3"/><rect x="571.55" y="293.40" width="6.3" height="3.3"/>
<rect x="588.25" y="273.30" width="3.9" height="16.60"/><rect x="588.25" y="289.90" width="3.9" height="16.80"/><rect x="587.05" y="273.30" width="6.3" height="3.3"/><rect x="587.05" y="303.40" width="6.3" height="3.3"/>
<rect x="603.05" y="294.30" width="3.9" height="17.80"/><rect x="603.05" y="312.10" width="3.9" height="18.00"/><rect x="601.85" y="294.30" width="6.3" height="3.3"/><rect x="601.85" y="326.80" width="6.3" height="3.3"/>
<rect x="618.45" y="300.60" width="3.9" height="19.80"/><rect x="618.45" y="320.40" width="3.9" height="19.60"/><rect x="617.25" y="300.60" width="6.3" height="3.3"/><rect x="617.25" y="336.70" width="6.3" height="3.3"/>
<rect x="633.75" y="317.20" width="3.9" height="21.70"/><rect x="633.75" y="338.90" width="3.9" height="21.90"/><rect x="632.55" y="317.20" width="6.3" height="3.3"/><rect x="632.55" y="357.50" width="6.3" height="3.3"/>
<rect x="648.75" y="382.80" width="3.9" height="21.10"/><rect x="648.75" y="403.90" width="3.9" height="21.40"/><rect x="647.55" y="382.80" width="6.3" height="3.3"/><rect x="647.55" y="422.00" width="6.3" height="3.3"/>
<rect x="663.95" y="255.30" width="3.9" height="31.70"/><rect x="663.95" y="287.00" width="3.9" height="31.50"/><rect x="662.75" y="255.30" width="6.3" height="3.3"/><rect x="662.75" y="315.20" width="6.3" height="3.3"/>
<rect x="679.05" y="412.20" width="3.9" height="25.00"/><rect x="679.05" y="437.20" width="3.9" height="25.10"/><rect x="677.85" y="412.20" width="6.3" height="3.3"/><rect x="677.85" y="459.00" width="6.3" height="3.3"/>
<rect x="693.95" y="398.80" width="3.9" height="30.20"/><rect x="693.95" y="429.00" width="3.9" height="29.20"/><rect x="692.75" y="398.80" width="6.3" height="3.3"/><rect x="692.75" y="454.90" width="6.3" height="3.3"/>
<rect x="709.05" y="412.20" width="3.9" height="32.70"/><rect x="709.05" y="444.90" width="3.9" height="32.10"/><rect x="707.85" y="412.20" width="6.3" height="3.3"/><rect x="707.85" y="473.70" width="6.3" height="3.3"/>
<rect x="724.15" y="416.90" width="3.9" height="36.50"/><rect x="724.15" y="453.40" width="3.9" height="36.60"/><rect x="722.95" y="416.90" width="6.3" height="3.3"/><rect x="722.95" y="486.70" width="6.3" height="3.3"/>
<rect x="739.25" y="490.80" width="3.9" height="29.40"/><rect x="739.25" y="520.20" width="3.9" height="28.50"/><rect x="738.05" y="490.80" width="6.3" height="3.3"/><rect x="738.05" y="545.40" width="6.3" height="3.3"/>
<rect x="754.15" y="462.70" width="3.9" height="39.60"/><rect x="754.15" y="502.30" width="3.9" height="38.70"/><rect x="752.95" y="462.70" width="6.3" height="3.3"/><rect x="752.95" y="537.70" width="6.3" height="3.3"/>
<rect x="769.45" y="420.40" width="3.9" height="53.60"/><rect x="769.45" y="474.00" width="3.9" height="53.00"/><rect x="768.25" y="420.40" width="6.3" height="3.3"/><rect x="768.25" y="523.70" width="6.3" height="3.3"/>
<rect x="784.65" y="407.60" width="3.9" height="63.50"/><rect x="784.65" y="471.10" width="3.9" height="62.90"/><rect x="783.45" y="407.60" width="6.3" height="3.3"/><rect x="783.45" y="530.70" width="6.3" height="3.3"/>
<circle cx="227.20" cy="173.70" r="5"/>
<circle cx="242.10" cy="188.60" r="5"/>
<circle cx="257.30" cy="196.40" r="5"/>
<circle cx="272.60" cy="204.90" r="5"/>
<circle cx="287.50" cy="212.70" r="5"/>
<circle cx="302.50" cy="223.60" r="5"/>
<circle cx="317.60" cy="228.90" r="5"/>
<circle cx="333.00" cy="232.40" r="5"/>
<circle cx="348.10" cy="236.20" r="5"/>
<circle cx="363.20" cy="241.00" r="5"/>
<circle cx="378.10" cy="242.10" r="5"/>
<circle cx="393.20" cy="243.50" r="5"/>
<circle cx="408.50" cy="249.40" r="5"/>
<circle cx="423.30" cy="259.90" r="5"/>
<circle cx="438.80" cy="255.20" r="5"/>
<circle cx="454.00" cy="259.90" r="5"/>
<circle cx="468.90" cy="259.20" r="5"/>
<circle cx="484.30" cy="271.50" r="5"/>
<circle cx="499.80" cy="284.00" r="5"/>
<circle cx="514.80" cy="277.70" r="5"/>
<circle cx="529.70" cy="281.20" r="5"/>
<circle cx="544.60" cy="297.50" r="5"/>
<circle cx="559.80" cy="305.00" r="5"/>
<circle cx="574.70" cy="280.80" r="5"/>
<circle cx="590.20" cy="289.90" r="5"/>
<circle cx="605.00" cy="312.10" r="5"/>
<circle cx="620.40" cy="320.40" r="5"/>
<circle cx="635.70" cy="338.90" r="5"/>
<circle cx="650.70" cy="403.90" r="5"/>
<circle cx="665.90" cy="287.00" r="5"/>
<circle cx="681.00" cy="437.20" r="5"/>
<circle cx="695.90" cy="429.00" r="5"/>
<circle cx="711.00" cy="444.90" r="5"/>
<circle cx="726.10" cy="453.40" r="5"/>
<circle cx="741.20" cy="520.20" r="5"/>
<circle cx="756.10" cy="502.30" r="5"/>
<circle cx="771.40" cy="474.00" r="5"/>
<circle cx="786.60" cy="471.10" r="5"/>
</g>
<g stroke="#000" fill="none"><path d="M112.5 8.5V566.5M890.5 8.5V566.5" stroke-width="1.3"/><path d="M111.9 8.5H891.1M111.9 566.5H891.1" stroke-width="1.1"/></g>
<g font-size="23px" fill="#000">
<text transform="translate(103.5 574.6) scale(1.07 1)" font-size="23px" text-anchor="end">0</text>
<text transform="translate(103.5 474.9) scale(1.07 1)" font-size="23px" text-anchor="end">50</text>
<text transform="translate(103.5 375.2) scale(1.07 1)" font-size="23px" text-anchor="end">100</text>
<text transform="translate(103.5 275.5) scale(1.07 1)" font-size="23px" text-anchor="end">150</text>
<text transform="translate(103.5 175.8) scale(1.07 1)" font-size="23px" text-anchor="end">200</text>
<text transform="translate(103.5 76.1) scale(1.07 1)" font-size="23px" text-anchor="end">250</text>
<text transform="translate(123.8 604) scale(1.04 1)" text-anchor="middle">10</text>
<text transform="translate(357.5 604) scale(1.04 1)">10<tspan font-size="17.4px" dy="-10.2" dx="-0.7">2</tspan></text>
<text transform="translate(609.7 604) scale(1.04 1)">10<tspan font-size="17.4px" dy="-10.2" dx="-0.7">3</tspan></text>
<text transform="translate(862.0 604) scale(1.04 1)">10<tspan font-size="17.4px" dy="-10.2" dx="-0.7">4</tspan></text>
</g>
<text x="403.3" y="633.8" font-size="31.5px" textLength="194.5" lengthAdjust="spacingAndGlyphs">Energy (GeV)</text>
<g transform="translate(39.2 519) rotate(-90)"><text x="-0.1" y="0" font-size="32px">E</text><text x="22.2" y="-16.2" font-size="21px">3</text><text x="42.8" y="1.6" font-size="29.5px">×</text><text x="69.2" y="0" font-size="32px">Flux</text><text x="165.2" y="0" font-size="32px">(</text><text x="177.6" y="0" font-size="32px">m</text><text x="204.9" y="-9.4" font-size="25.5px">−</text><text x="218.2" y="-13.0" font-size="21px">2</text><text x="232.7" y="0" font-size="32px">Sr</text><text x="264.3" y="-9.4" font-size="25.5px">−</text><text x="279.2" y="-13.0" font-size="21px">1</text><text x="293.5" y="0" font-size="32px">sec</text><text x="343.8" y="-9.4" font-size="25.5px">−</text><text x="357.5" y="-13.0" font-size="21px">1</text><text x="371.6" y="0" font-size="32px">G</text><text x="397.8" y="0" font-size="32px">e</text><text x="418.2" y="0" font-size="32px" textLength="20" lengthAdjust="spacingAndGlyphs">V</text><text x="439.2" y="-16.2" font-size="21px">2</text><text x="452.0" y="0" font-size="32px">)</text></g>
<g fill="none"><path d="M172.2 365.6H229.7" stroke="#ff0008" stroke-width="3.8"/><path d="M172.2 408.3H229.7" stroke="#1af54f" stroke-width="3.0"/><path d="M172.2 450H229.7" stroke="#0a48ff" stroke-width="3.9"/></g>
<circle cx="201.3" cy="365.6" r="4.6" fill="#ff0008"/>
<rect x="197.6" y="404.6" width="7.4" height="7.4" fill="none" stroke="#1af54f" stroke-width="1.2"/>
<path d="M201.3 446.1L205.2 453.4L197.4 453.4Z" fill="none" stroke="#0a48ff" stroke-width="1.2"/>
<g font-size="21.8px" font-weight="bold" fill="#000"><text x="241.3" y="374.2" textLength="80.6" lengthAdjust="spacingAndGlyphs">DAMPE</text><text x="241.6" y="417.2" textLength="145.6" lengthAdjust="spacingAndGlyphs">AMS02 (2014)</text><text x="241.3" y="458.6" textLength="131" lengthAdjust="spacingAndGlyphs">Fermi (2017)</text></g>
</svg>
</body></html>
